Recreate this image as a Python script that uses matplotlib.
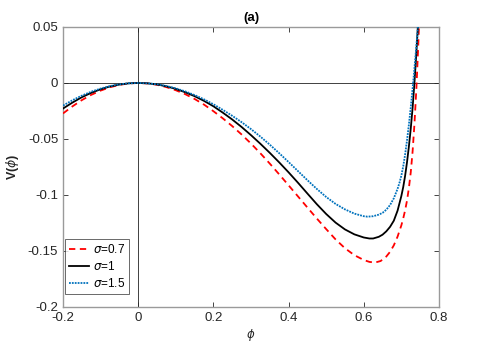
import matplotlib
matplotlib.use("Agg")
import matplotlib.pyplot as plt
import numpy as np

# values
phi = [-0.200, -0.175, -0.150, -0.125, -0.100, -0.075, -0.050, -0.025, 0.000,
       0.025, 0.050, 0.075, 0.100, 0.125, 0.150, 0.175, 0.200, 0.225, 0.250,
       0.275, 0.300, 0.325, 0.350, 0.375, 0.400, 0.425, 0.450, 0.475, 0.500,
       0.525, 0.550, 0.575, 0.600]

v_07 = [-0.0272, -0.0209, -0.0153, -0.0106, -0.0068, -0.0038, -0.0017, -0.0004, 0.0,
        -0.0004, -0.0016, -0.0037, -0.0065, -0.0100, -0.0143, -0.0193, -0.0252, -0.0316, -0.0385,
        -0.0460, -0.0541, -0.0628, -0.0720, -0.0816, -0.0914, -0.1013, -0.1112, -0.1210, -0.1305,
        -0.1397, -0.1476, -0.1538, -0.1581]
v_10 = [-0.0228, -0.0175, -0.0127, -0.0088, -0.0056, -0.0031, -0.0014, -0.0003, 0.0,
        -0.0003, -0.0013, -0.0030, -0.0053, -0.0083, -0.0118, -0.0160, -0.0208, -0.0265, -0.0326,
        -0.0393, -0.0466, -0.0543, -0.0624, -0.0709, -0.0798, -0.0891, -0.0987, -0.1082, -0.1170,
        -0.1247, -0.1308, -0.1352, -0.1380]
v_15 = [-0.0202, -0.0154, -0.0113, -0.0078, -0.0050, -0.0028, -0.0012, -0.0003, 0.0,
        -0.0003, -0.0012, -0.0027, -0.0048, -0.0075, -0.0108, -0.0146, -0.0190, -0.0240, -0.0293,
        -0.0350, -0.0412, -0.0479, -0.0551, -0.0627, -0.0706, -0.0787, -0.0868, -0.0946, -0.1018,
        -0.1080, -0.1129, -0.1167, -0.1190]

# denser readings near the wall
phi_07_r = [0.615, 0.630, 0.645, 0.660, 0.670, 0.680, 0.690, 0.700, 0.705, 0.710,
            0.715, 0.720, 0.725, 0.730, 0.735, 0.740, 0.745, 0.750]
v_07_r = [-0.1598, -0.1604, -0.1590, -0.1550, -0.1508, -0.1450, -0.1372, -0.1272, -0.1210, -0.1138,
          -0.1052, -0.0940, -0.0800, -0.0610, -0.0360, -0.0050, 0.0330, 0.0800]
phi_10_r = [0.615, 0.625, 0.640, 0.650, 0.660, 0.670, 0.680, 0.690, 0.700, 0.705, 0.710,
            0.715, 0.720, 0.725, 0.730, 0.735, 0.740, 0.745]
v_10_r = [-0.1389, -0.1389, -0.1374, -0.1355, -0.1325, -0.1285, -0.1230, -0.1140, -0.1010, -0.0930, -0.0830,
          -0.0710, -0.0570, -0.0410, -0.0220, 0.0010, 0.0270, 0.0560]
phi_15_r = [0.610, 0.625, 0.640, 0.650, 0.660, 0.670, 0.680, 0.690, 0.695, 0.700,
            0.705, 0.710, 0.715, 0.720, 0.725, 0.730, 0.735, 0.740, 0.745]
v_15_r = [-0.1194, -0.1190, -0.1176, -0.1160, -0.1132, -0.1090, -0.1030, -0.0945, -0.0892, -0.0828,
          -0.0745, -0.0640, -0.0515, -0.0375, -0.0220, -0.0050, 0.0135, 0.0330, 0.0540]

labels = [r"$\sigma$=0.7", r"$\sigma$=1", r"$\sigma$=1.5"]
xticks = [-0.2, 0, 0.2, 0.4, 0.6, 0.8]
xticklabels = ["-0.2", "0", "0.2", "0.4", "0.6", "0.8"]
yticks = [-0.2, -0.15, -0.1, -0.05, 0, 0.05]
yticklabels = ["-0.2", "-0.15", "-0.1", "-0.05", "0", "0.05"]

plt.rcParams["font.family"] = ["Liberation Sans", "DejaVu Sans"]
plt.rcParams["mathtext.fontset"] = "dejavusans"

fig = plt.figure(figsize=(4.85, 3.46), dpi=100)
ax = fig.add_axes([0.13, 0.113, 0.775, 0.809])

ax.axhline(0, color="#404040", lw=0.7, zorder=1)
ax.axvline(0, color="#404040", lw=0.7, zorder=1)

ax.plot(phi + phi_07_r, v_07 + v_07_r, color="red", ls=(0, (3.5, 2.5)), lw=1.3, label=labels[0], zorder=3)
ax.plot(phi + phi_10_r, v_10 + v_10_r, color="black", ls="-", lw=1.3, label=labels[1], zorder=3)
ax.plot(phi + phi_15_r, v_15 + v_15_r, color="#0072BD", ls=(0, (1, 0.6)), lw=1.3, label=labels[2], zorder=3)

ax.set_xlim(-0.2, 0.8)
ax.set_ylim(-0.2, 0.05)
ax.set_xticks(xticks)
ax.set_xticklabels(xticklabels)
ax.set_yticks(yticks)
ax.set_yticklabels(yticklabels)
ax.tick_params(direction="in", length=3.5, width=0.6, labelsize=9.5,
               colors="#262626", top=True, right=True, labeltop=False, labelright=False)
for s in ax.spines.values():
    s.set_color("#9a9a9a")
    s.set_linewidth(1.0)

ax.set_title("(a)", fontsize=9.5, fontweight="bold", color="black", pad=4)
ax.set_xlabel(r"$\phi$", fontsize=8.5, color="#262626", labelpad=2)
ax.set_ylabel(r"V($\phi$)", fontsize=9, fontweight="bold", color="#262626", labelpad=5)

leg = ax.legend(loc="lower left", bbox_to_anchor=(0.005, 0.045), borderaxespad=0,
                fontsize=8.5, frameon=True, fancybox=False,
                edgecolor="#262626", handlelength=1.7, handletextpad=0.3,
                borderpad=0.35, labelspacing=0.35)
leg.get_frame().set_linewidth(0.6)

fig.savefig("out.png", dpi=100)
